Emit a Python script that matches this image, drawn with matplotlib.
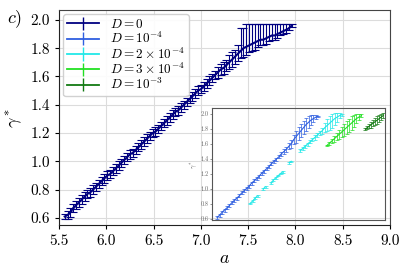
import numpy as np
import matplotlib
matplotlib.use("Agg")
import matplotlib.pyplot as plt

plt.rcParams['font.family'] = 'cmr10'
plt.rcParams['mathtext.fontset'] = 'cm'
plt.rcParams['axes.formatter.use_mathtext'] = True

# D = 0 (main panel)
a_d0 = [5.56, 5.59, 5.62, 5.65, 5.68, 5.71, 5.74, 5.77, 5.80, 5.83, 5.86,
        5.89, 5.92, 5.95, 5.98, 6.01, 6.04, 6.07, 6.10, 6.13, 6.16, 6.19,
        6.22, 6.25, 6.28, 6.31, 6.34, 6.37, 6.40, 6.43, 6.46, 6.49, 6.52,
        6.55, 6.58, 6.61, 6.64, 6.67, 6.70, 6.73, 6.76, 6.79, 6.82, 6.85,
        6.88, 6.91, 6.94, 6.97, 7.00, 7.03, 7.06, 7.09, 7.12, 7.15, 7.18,
        7.21, 7.24, 7.27, 7.30, 7.33, 7.36, 7.39,
        7.42, 7.45, 7.48, 7.51, 7.54, 7.57, 7.60, 7.63, 7.66, 7.69, 7.72,
        7.75, 7.78, 7.81, 7.84, 7.87, 7.90, 7.93, 7.96]
g_d0 = [0.61, 0.62, 0.64, 0.67, 0.69, 0.71, 0.73, 0.75, 0.77, 0.78, 0.80,
        0.82, 0.84, 0.86, 0.88, 0.90, 0.91, 0.93, 0.95, 0.97, 0.99, 1.01,
        1.03, 1.05, 1.06, 1.08, 1.10, 1.12, 1.14, 1.16, 1.18, 1.20, 1.21,
        1.23, 1.25, 1.27, 1.29, 1.31, 1.33, 1.35, 1.36, 1.38, 1.40, 1.42,
        1.44, 1.46, 1.48, 1.50, 1.51, 1.53, 1.55, 1.57, 1.59, 1.61, 1.63,
        1.65, 1.66, 1.68, 1.70, 1.72, 1.74, 1.76,
        1.78, 1.80, 1.81, 1.82, 1.83, 1.84, 1.85, 1.86, 1.86, 1.87, 1.88,
        1.89, 1.89, 1.90, 1.91, 1.92, 1.93, 1.94, 1.96]
lo_d0 = [0.02, 0.03, 0.03, 0.03, 0.03, 0.03, 0.03, 0.03, 0.03, 0.03, 0.03,
         0.03, 0.03, 0.03, 0.03, 0.03, 0.03, 0.03, 0.03, 0.03, 0.03, 0.03,
         0.03, 0.03, 0.03, 0.03, 0.03, 0.03, 0.03, 0.03, 0.03, 0.03, 0.03,
         0.03, 0.03, 0.03, 0.03, 0.03, 0.03, 0.03, 0.03, 0.03, 0.03, 0.03,
         0.03, 0.03, 0.03, 0.03, 0.03, 0.03, 0.03, 0.03, 0.03, 0.03, 0.04,
         0.04, 0.04, 0.04, 0.05, 0.05, 0.05, 0.05,
         0.05, 0.06, 0.06, 0.05, 0.05, 0.05, 0.04, 0.04, 0.04, 0.04, 0.03,
         0.03, 0.03, 0.03, 0.02, 0.02, 0.02, 0.01, 0.01]
hi_d0 = [0.02, 0.03, 0.03, 0.03, 0.03, 0.03, 0.03, 0.03, 0.03, 0.03, 0.03,
         0.03, 0.03, 0.03, 0.03, 0.03, 0.03, 0.03, 0.03, 0.03, 0.03, 0.03,
         0.03, 0.03, 0.03, 0.03, 0.03, 0.03, 0.03, 0.03, 0.03, 0.03, 0.03,
         0.03, 0.03, 0.03, 0.03, 0.03, 0.03, 0.03, 0.03, 0.03, 0.03, 0.03,
         0.03, 0.03, 0.03, 0.03, 0.03, 0.03, 0.03, 0.03, 0.03, 0.03, 0.04,
         0.04, 0.04, 0.04, 0.05, 0.05, 0.05, 0.06,
         0.16, 0.14, 0.16, 0.15, 0.14, 0.13, 0.12, 0.11, 0.11, 0.10, 0.09,
         0.08, 0.08, 0.07, 0.06, 0.05, 0.04, 0.03, 0.01]

# D = 1e-4 (inset)
a_d1 = [5.60, 5.65, 5.70, 5.75, 5.80, 5.85, 5.90, 5.95, 6.00, 6.05, 6.10,
        6.15, 6.20, 6.25, 6.30, 6.35, 6.40, 6.45, 6.50, 6.55, 6.60, 6.65,
        6.70, 6.75, 6.80, 6.85, 6.90, 6.95, 7.00, 7.05, 7.10, 7.15, 7.20,
        7.25, 7.30, 7.35, 7.40, 7.45, 7.50, 7.55, 7.60, 7.64]
g_d1 = [0.62, 0.65, 0.69, 0.72, 0.75, 0.78, 0.82, 0.85, 0.88, 0.91, 0.95,
        0.98, 1.01, 1.04, 1.08, 1.11, 1.14, 1.17, 1.21, 1.24, 1.27, 1.30,
        1.34, 1.37, 1.40, 1.43, 1.47, 1.50, 1.53, 1.57, 1.60, 1.66, 1.70,
        1.74, 1.78, 1.82, 1.86, 1.89, 1.92, 1.94, 1.96, 1.97]
e_d1 = [0.02, 0.02, 0.02, 0.02, 0.02, 0.02, 0.02, 0.02, 0.02, 0.02, 0.02,
        0.02, 0.02, 0.02, 0.02, 0.02, 0.02, 0.02, 0.02, 0.02, 0.02, 0.02,
        0.02, 0.02, 0.02, 0.02, 0.03, 0.03, 0.03, 0.04, 0.05, 0.06, 0.08,
        0.09, 0.09, 0.09, 0.09, 0.08, 0.07, 0.05, 0.03, 0.01]

# D = 2e-4 (inset), gaps are nan
a_d2 = [6.27, 6.32, 6.37, 6.42, 6.47, 6.53, 6.58, 6.63, 6.69, 6.74, 6.79,
        6.84, 6.89, 6.93, 7.00, 7.06, 7.10, 7.18, 7.28, 7.33, 7.38, 7.43,
        7.48, 7.53, 7.58, 7.63, 7.68, 7.73, 7.78, 7.83, 7.88, 7.93, 7.98,
        8.03, 8.08, 8.12]
g_d2 = [0.81, 0.84, 0.88, 0.91, np.nan, 1.00, 1.03, np.nan, 1.08, 1.12, 1.15,
        1.18, 1.21, 1.23, np.nan, 1.35, 1.37, np.nan, 1.51, 1.54, 1.57, 1.60,
        1.63, 1.66, 1.69, 1.72, 1.75, 1.78, 1.82, 1.85, 1.88, 1.91, 1.94,
        1.96, 1.98, 1.99]
e_d2 = [0.01, 0.01, 0.01, 0.01, 0.0, 0.01, 0.01, 0.0, 0.01, 0.01, 0.01,
        0.01, 0.01, 0.01, 0.0, 0.01, 0.01, 0.0, 0.02, 0.02, 0.02, 0.02,
        0.02, 0.02, 0.03, 0.03, 0.03, 0.04, 0.06, 0.08, 0.09, 0.09, 0.08,
        0.06, 0.03, 0.01]

# D = 3e-4 (inset)
a_d3 = [7.82, 7.87, 7.92, 7.97, 8.02, 8.07, 8.12, 8.17, 8.22, 8.27, 8.32,
        8.37, 8.42, 8.47, 8.52]
g_d3 = [1.58, 1.61, 1.64, 1.67, 1.70, 1.73, 1.76, 1.79, 1.82, 1.85, 1.88,
        1.91, 1.94, 1.96, 1.98]
e_d3 = [0.01, 0.02, 0.03, 0.04, 0.05, 0.06, 0.07, 0.08, 0.09, 0.09, 0.09,
        0.08, 0.06, 0.04, 0.02]

# D = 1e-3 (inset)
a_d4 = [8.60, 8.64, 8.68, 8.72, 8.76, 8.80, 8.84, 8.88, 8.92, 8.96]
g_d4 = [1.80, 1.82, 1.84, 1.86, 1.88, 1.90, 1.92, 1.94, 1.96, 1.98]
e_d4 = [0.01, 0.02, 0.03, 0.04, 0.04, 0.05, 0.05, 0.05, 0.04, 0.03]

LABELS = [r'$D = 0$', r'$D = 10^{-4}$', r'$D = 2 \times 10^{-4}$',
          r'$D = 3 \times 10^{-4}$', r'$D = 10^{-3}$']
COLORS = ['#000080', '#2f5fe0', '#22e8e8', '#22e022', '#127a12']

fig = plt.figure(figsize=(4.08, 2.75), dpi=100)
ax = fig.add_axes([0.1446, 0.1818, 0.8114, 0.7818])

ax.errorbar(a_d0, g_d0, yerr=[lo_d0, hi_d0], color=COLORS[0], lw=1.5,
            elinewidth=0.8, capsize=2.8, capthick=0.8, zorder=3)

ax.set_xlim(5.5, 9.0)
ax.set_ylim(0.55, 2.07)
ax.set_xticks([5.5, 6.0, 6.5, 7.0, 7.5, 8.0, 8.5, 9.0])
ax.set_yticks([0.6, 0.8, 1.0, 1.2, 1.4, 1.6, 1.8, 2.0])
ax.xaxis.set_major_formatter(plt.FormatStrFormatter('%.1f'))
ax.yaxis.set_major_formatter(plt.FormatStrFormatter('%.1f'))
ax.tick_params(labelsize=11, length=3, width=0.8)
ax.grid(True, color='#dcdcdc', lw=0.8)
ax.set_axisbelow(True)
for side in ['top', 'right']:
    ax.spines[side].set_color('#444444')
for side in ['left', 'bottom']:
    ax.spines[side].set_color('#222222')
ax.set_xlabel(r'$a$', fontsize=13, labelpad=2)
ax.set_ylabel(r'$\gamma^*$', fontsize=13, labelpad=4)
fig.text(0.018, 0.915, r'$c)$', fontsize=13)

# inset
ins = fig.add_axes([0.52, 0.2, 0.424, 0.407])
ins.set_facecolor('none')
for a, g, e, c in [(a_d1, g_d1, e_d1, COLORS[1]),
                   (a_d2, g_d2, e_d2, COLORS[2]),
                   (a_d3, g_d3, e_d3, COLORS[3]),
                   (a_d4, g_d4, e_d4, COLORS[4])]:
    ins.errorbar(a, g, yerr=e, color=c, lw=0.8, elinewidth=0.5,
                 capsize=1.2, capthick=0.5)
ins.set_xlim(5.5, 9.0)
ins.set_ylim(0.587, 2.08)
ins.set_xticks([])
ins.set_yticks([0.6, 0.8, 1.0, 1.2, 1.4, 1.6, 1.8, 2.0])
ins.yaxis.set_major_formatter(plt.FormatStrFormatter('%.1f'))
ins.tick_params(labelsize=4.5, length=1.5, width=0.5, colors='#666666',
                pad=1)
ins.set_ylabel(r'$\gamma^*$', fontsize=5, color='#666666', labelpad=1)
for sp in ins.spines.values():
    sp.set_color('#555555')
    sp.set_linewidth(0.8)

# legend entries (same style for every series)
handles = []
for c in COLORS:
    h = ax.errorbar([], [], yerr=[], color=c, lw=1.3, elinewidth=1.0,
                    capsize=2.5, capthick=1.0)
    handles.append(h)
ax.legend(handles, LABELS, loc='upper left', fontsize=9.5, frameon=True,
          fancybox=True, framealpha=0.9, edgecolor='#cccccc',
          borderaxespad=0.3, handlelength=2.4, labelspacing=0.0,
          borderpad=0.3, handletextpad=0.9)

fig.savefig('out.png', dpi=100)
